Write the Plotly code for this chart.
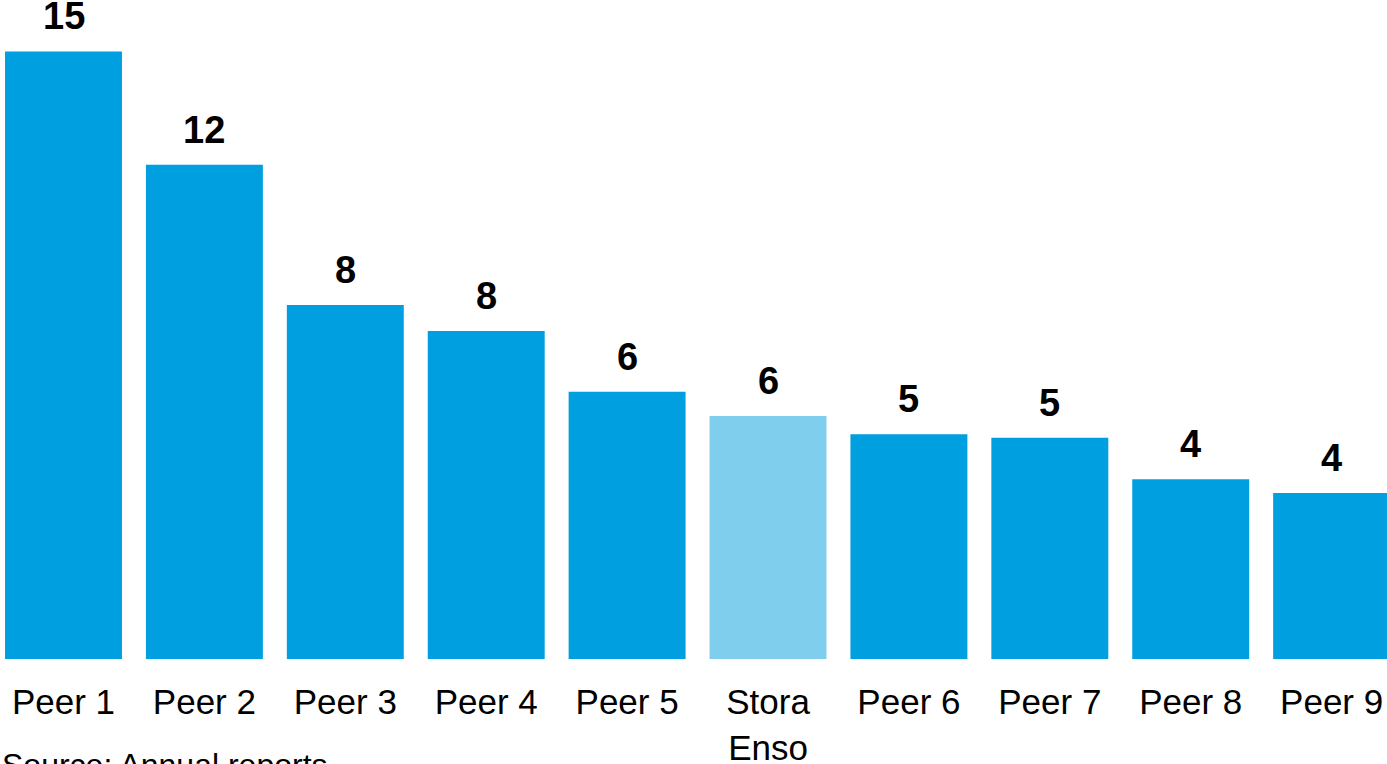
import plotly.graph_objects as go

categories = ["Peer 1", "Peer 2", "Peer 3", "Peer 4", "Peer 5", "Stora<br>Enso",
              "Peer 6", "Peer 7", "Peer 8", "Peer 9"]
values = [15.0, 12.2, 8.74, 8.1, 6.6, 6.0, 5.55, 5.46, 4.44, 4.1]
labels = ["15", "12", "8", "8", "6", "6", "5", "5", "4", "4"]
highlight = "Stora<br>Enso"

BLUE = "#009FDF"
LIGHT = "#80CEEE"
colors = [LIGHT if c == highlight else BLUE for c in categories]

FONT = "Liberation Sans, Arial, sans-serif"

fig = go.Figure()
fig.add_trace(go.Bar(
    x=categories, y=values, marker=dict(color=colors, line=dict(width=0)),
    hoverinfo="skip",
))

for c, v, t in zip(categories, values, labels):
    fig.add_annotation(x=c, y=v, text=t, showarrow=False, yanchor="bottom",
                       yshift=12,
                       font=dict(family=FONT, size=38, color="black", weight="bold"))

fig.add_annotation(x=0, y=0, xref="paper", yref="paper", text="Source: Annual reports",
                   showarrow=False, xanchor="left", yanchor="top", xshift=0, yshift=-86,
                   font=dict(family=FONT, size=32, color="black"))

fig.update_layout(
    width=1387, height=764,
    margin=dict(l=0, r=0, t=0, b=105, pad=0, autoexpand=False),
    paper_bgcolor="white", plot_bgcolor="white",
    bargap=0.17,
    showlegend=False,
    xaxis=dict(range=[-0.4507, 9.393], showgrid=False, showline=False, zeroline=False,
               ticks="", ticklabelstandoff=19, automargin=False,
               tickfont=dict(family=FONT, size=35, color="black")),
    yaxis=dict(range=[0, 16.27], visible=False, automargin=False),
)

fig.write_html("out.html")
